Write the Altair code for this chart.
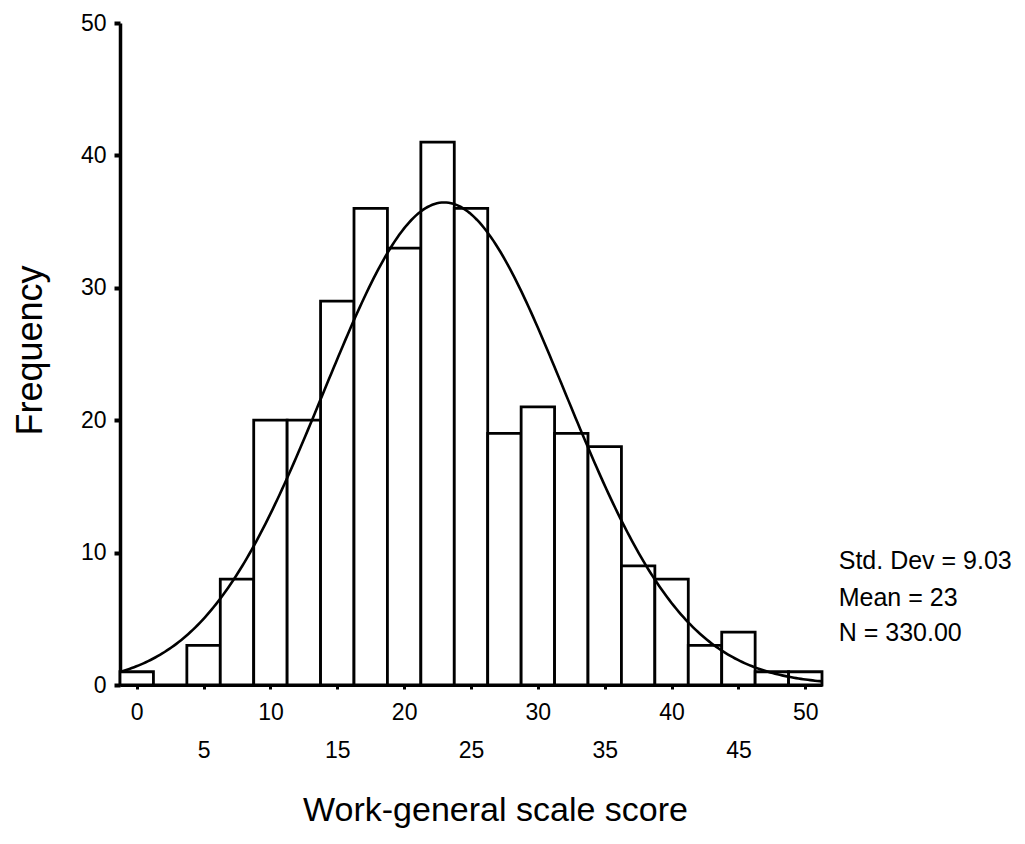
import altair as alt
import numpy as np
import pandas as pd

# Histogram of work-general scale scores: bin midpoints and counts (bin width 2.5)
bin_mid = [0, 2.5, 5, 7.5, 10, 12.5, 15, 17.5, 20, 22.5, 25,
           27.5, 30, 32.5, 35, 37.5, 40, 42.5, 45, 47.5, 50]
counts = [1, 0, 3, 8, 20, 20, 29, 36, 33, 41, 36,
          19, 21, 19, 18, 9, 8, 3, 4, 1, 1]
bin_width = 2.5

# Summary statistics shown beside the plot
std_dev = 9.03
mean = 23
n_total = 330.00
stat_lines = ["Std. Dev = 9.03", "Mean = 23", "N = 330.00"]
stat_y = [9.4, 6.6, 3.9]   # vertical placement in frequency units
stat_x = 52.5              # just right of the last bin

x_ticks = [0, 5, 10, 15, 20, 25, 30, 35, 40, 45, 50]
y_ticks = [0, 10, 20, 30, 40, 50]
x_lo, x_hi = -1.25, 51.25

FONT = "Liberation Sans"

bars_df = pd.DataFrame({"mid": bin_mid, "count": counts})
bars_df["lo"] = bars_df["mid"] - bin_width / 2
bars_df["hi"] = bars_df["mid"] + bin_width / 2
bars_df["base"] = 0

# Fitted normal curve for the stated mean / SD, scaled to counts per bin
xs = np.linspace(x_lo, x_hi, 300)
dens = n_total * bin_width / (std_dev * np.sqrt(2 * np.pi)) * np.exp(-0.5 * ((xs - mean) / std_dev) ** 2)
curve_df = pd.DataFrame({"x": xs, "y": dens})

stats_df = pd.DataFrame({"label": stat_lines, "y": stat_y, "x": [stat_x] * 3})

x_scale = alt.Scale(domain=[x_lo, x_hi], nice=False, zero=False)
y_scale = alt.Scale(domain=[0, 50], nice=False)

x_axis = alt.Axis(
    values=x_ticks,
    title="Work-general scale score",
    titleFont=FONT, titleFontSize=34, titleFontWeight="normal", titleColor="black",
    titleX=375, titleY=125, titleAlign="center", titleBaseline="middle",
    labelFont=FONT, labelFontSize=23, labelColor="black",
    labelPadding={"condition": {"test": "datum.value % 10 !== 0", "value": 50}, "value": 12},
    labelFlush=False, labelOverlap=False,
    tickSize=4, tickWidth=3, tickColor="black",
    domainColor="black", domainWidth=3,
    grid=False,
)
y_axis = alt.Axis(
    values=y_ticks,
    title="Frequency",
    titleFont=FONT, titleFontSize=36, titleFontWeight="normal", titleColor="black",
    titleX=-90, titleY=327, titleAngle=-90, titleAlign="center", titleBaseline="middle",
    labelFont=FONT, labelFontSize=23, labelColor="black", labelPadding=8,
    labelFlush=False, labelOverlap=False,
    tickSize=6, tickWidth=4, tickColor="black",
    domainColor="black", domainWidth=3.5,
    grid=False,
)

bars = alt.Chart(bars_df).mark_bar(
    fill="white", stroke="black", strokeWidth=2.8
).encode(
    x=alt.X("lo:Q", scale=x_scale, axis=x_axis),
    x2="hi:Q",
    y=alt.Y("count:Q", scale=y_scale, axis=y_axis),
    y2="base:Q",
)

curve = alt.Chart(curve_df).mark_line(
    color="black", strokeWidth=2.6, clip=True
).encode(
    x=alt.X("x:Q", scale=x_scale),
    y=alt.Y("y:Q", scale=y_scale),
)

stats = alt.Chart(stats_df).mark_text(
    align="left", baseline="middle", font=FONT, fontSize=25, color="black"
).encode(
    x=alt.X("x:Q", scale=x_scale),
    y=alt.Y("y:Q", scale=y_scale),
    text="label:N",
)

chart = alt.layer(bars, curve, stats).properties(
    width=702,
    height=662,
    autosize=alt.AutoSizeParams(type="none"),
    padding={"left": 120, "top": 23, "right": 203, "bottom": 159},
    background="white",
).configure_view(stroke=None)

chart.save("out.html", embed_options={"renderer": "svg", "actions": False})
